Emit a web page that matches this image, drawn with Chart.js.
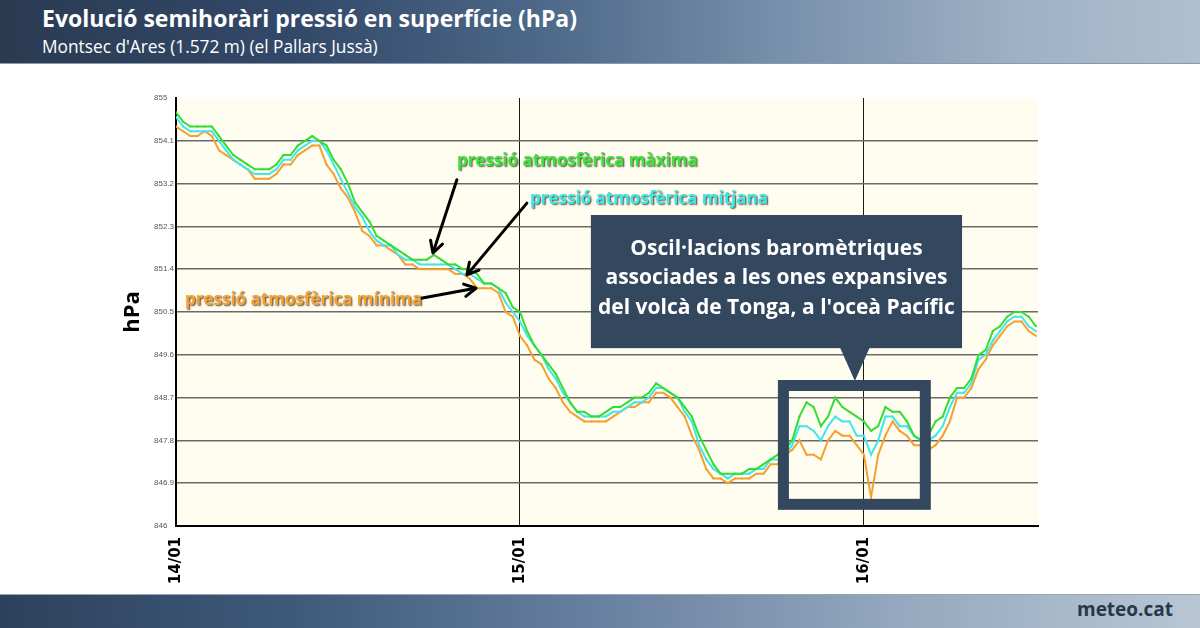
<!DOCTYPE html>
<html><head><meta charset="utf-8">
<script src="https://cdn.jsdelivr.net/npm/chart.js@4.4.1/dist/chart.umd.min.js"></script>
<style>
html,body{margin:0;padding:0;width:1200px;height:628px;overflow:hidden;background:#fff;font-family:"Open Sans",sans-serif;}
#hdr{position:absolute;left:0;top:0;width:1200px;height:63px;background:linear-gradient(90deg,#2a3b51 0%,#33496a 25%,#4d6888 45%,#7790ab 65%,#9fb1c5 85%,#aebfd0 100%);border-bottom:1px solid #8d99a8;}
#t1{position:absolute;left:42px;top:2px;color:#fff;font-weight:700;font-size:23px;white-space:nowrap;}
#t2{position:absolute;left:42px;top:35px;color:#fff;font-size:17.3px;white-space:nowrap;}
#ftr{position:absolute;left:0;top:594px;width:1200px;height:34px;background:linear-gradient(90deg,#2c425c 0%,#3f5a7a 25%,#6881a0 50%,#94a9bf 75%,#b8c6d4 100%);border-top:1px solid #9aa5b2;}
#logo{position:absolute;right:27px;top:1px;color:#26374c;font-size:19px;font-weight:700;white-space:nowrap;}
#wrap{position:absolute;left:0;top:0;width:1200px;height:628px;}
</style></head>
<body>
<div id="hdr"><div id="t1">Evolució semihoràri pressió en superfície (hPa)</div><div id="t2">Montsec d'Ares (1.572 m) (el Pallars Jussà)</div></div>
<div id="ftr"><div id="logo">meteo.cat</div></div>
<div id="wrap"><canvas id="c" width="1200" height="628"></canvas></div>
<script>
// ---- data ----
const dayTickIdx = [0, 48, 96];
const dayLabels = ['14/01', '15/01', '16/01'];
const yTicks = [846, 846.9, 847.8, 848.7, 849.6, 850.5, 851.4, 852.3, 853.2, 854.1, 855];
const pMax = [854.7,854.5,854.4,854.4,854.4,854.4,854.2,854.0,853.8,853.7,
853.6,853.5,853.5,853.5,853.6,853.8,853.8,854.0,854.1,854.2,
854.1,854.0,853.7,853.5,853.2,852.8,852.6,852.4,852.1,852.0,
851.9,851.8,851.7,851.6,851.6,851.6,851.7,851.6,851.5,851.5,
851.4,851.4,851.3,851.1,851.1,851.0,850.9,850.6,850.5,850.1,
849.8,849.6,849.4,849.2,848.9,848.6,848.4,848.4,848.3,848.3,
848.4,848.5,848.5,848.6,848.7,848.7,848.8,849.0,848.9,848.8,
848.7,848.5,848.3,847.9,847.6,847.3,847.1,847.1,847.1,847.1,
847.2,847.2,847.3,847.4,847.5,847.6,847.8,848.3,848.6,848.5,
848.1,848.3,848.7,848.5,848.4,848.3,848.2,848.0,848.1,848.5,
848.4,848.4,848.2,847.9,847.8,847.9,848.2,848.3,848.7,848.9,
848.9,849.1,849.6,849.7,850.1,850.2,850.4,850.5,850.5,850.4,
850.2];
const pMean = [854.6,854.4,854.3,854.3,854.3,854.3,854.1,853.9,853.7,853.6,
853.5,853.4,853.4,853.4,853.5,853.7,853.7,853.9,854.0,854.1,
854.1,853.9,853.6,853.3,853.0,852.7,852.5,852.2,852.0,851.9,
851.9,851.7,851.6,851.6,851.5,851.5,851.5,851.5,851.5,851.4,
851.3,851.3,851.2,851.1,851.1,851.0,850.7,850.5,850.3,850.0,
849.8,849.6,849.3,849.1,848.8,848.6,848.4,848.3,848.3,848.3,
848.3,848.4,848.4,848.5,848.6,848.6,848.7,848.9,848.9,848.8,
848.7,848.4,848.2,847.7,847.4,847.2,847.1,847.0,847.1,847.1,
847.1,847.2,847.2,847.4,847.4,847.5,847.7,848.1,848.1,848.0,
847.8,848.1,848.3,848.2,848.2,847.9,847.9,847.5,847.8,848.3,
848.3,848.1,848.1,847.9,847.8,847.8,847.9,848.1,848.5,848.8,
848.8,849.0,849.5,849.6,849.9,850.1,850.3,850.4,850.4,850.2,
850.1];
const pMin = [854.4,854.3,854.2,854.2,854.3,854.2,853.9,853.8,853.7,853.6,
853.5,853.3,853.3,853.3,853.4,853.6,853.6,853.8,853.9,854.0,
854.0,853.6,853.4,853.1,852.9,852.6,852.2,852.1,851.9,851.9,
851.8,851.7,851.5,851.5,851.4,851.4,851.4,851.4,851.4,851.3,
851.3,851.2,851.0,851.0,851.0,850.9,850.5,850.4,850.0,849.8,
849.5,849.4,849.1,848.9,848.6,848.4,848.3,848.2,848.2,848.2,
848.2,848.3,848.4,848.5,848.5,848.6,848.6,848.8,848.8,848.7,
848.5,848.3,847.9,847.6,847.2,847.0,847.0,846.9,847.0,847.0,
847.0,847.1,847.1,847.3,847.3,847.5,847.6,847.8,847.5,847.5,
847.4,847.8,848.0,847.9,847.9,847.7,847.5,846.6,847.5,847.9,
848.2,848.0,847.9,847.7,847.7,847.6,847.7,847.9,848.2,848.7,
848.7,848.9,849.3,849.5,849.8,850.0,850.2,850.3,850.3,850.1,
850.0];
const seriesNames = ['pressió atmosfèrica màxima', 'pressió atmosfèrica mitjana', 'pressió atmosfèrica mínima'];

// ---- annotations (in data coordinates: x = half-hour index, y = hPa) ----
const noteLabels = [
  {text: seriesNames[0], x: 39.2, y: 853.67, color: '#3ee23a'},
  {text: seriesNames[1], x: 49.4, y: 852.88, color: '#3fe4e4'},
  {text: seriesNames[2], x: 1.26, y: 850.75, color: '#f5a233'}
];
const noteArrows = [
  {x1: 39.2, y1: 853.28, x2: 35.86, y2: 851.74},
  {x1: 48.97, y1: 852.79, x2: 40.6, y2: 851.28},
  {x1: 34.2, y1: 850.79, x2: 41.86, y2: 851.0}
];
const calloutLines = ['Oscil·lacions baromètriques', 'associades a les ones expansives', "del volcà de Tonga, a l'oceà Pacífic"];
const callout = {x0: 57.9, x1: 109.7, y0: 852.54, y1: 849.74, tipX: 94.74, tipY: 849.05, bx0: 92.65, bx1: 96.83};
const focusBox = {x0: 84.0, x1: 105.34, y0: 849.07, y1: 846.34};

const toXY = arr => arr.map((v, i) => ({x: i, y: v}));
const NAVY = '#33475f';

function drawArrow(ctx, x1, y1, x2, y2) {
  const a = Math.atan2(y2 - y1, x2 - x1), h = 13;
  ctx.beginPath(); ctx.moveTo(x1, y1); ctx.lineTo(x2 - Math.cos(a) * 2, y2 - Math.sin(a) * 2); ctx.stroke();
  ctx.beginPath();
  ctx.moveTo(x2 - h * Math.cos(a - 0.5), y2 - h * Math.sin(a - 0.5));
  ctx.lineTo(x2, y2);
  ctx.lineTo(x2 - h * Math.cos(a + 0.5), y2 - h * Math.sin(a + 0.5));
  ctx.stroke();
}

const deco = {
  id: 'deco',
  beforeDraw(chart) {
    const {ctx, chartArea: a} = chart;
    ctx.save(); ctx.fillStyle = '#fffdf0';
    ctx.fillRect(a.left, a.top, a.right - a.left, a.bottom - a.top);
    ctx.restore();
  },
  afterDatasetsDraw(chart) {
    const {ctx} = chart; const xs = chart.scales.x, ys = chart.scales.y;
    const X = v => xs.getPixelForValue(v), Y = v => ys.getPixelForValue(v);
    ctx.save();
    ctx.strokeStyle = '#000'; ctx.lineWidth = 3; ctx.lineCap = 'round'; ctx.lineJoin = 'round';
    noteArrows.forEach(r => drawArrow(ctx, X(r.x1), Y(r.y1), X(r.x2), Y(r.y2)));
    ctx.font = 'bold 17px "Open Sans"'; ctx.textBaseline = 'middle'; ctx.textAlign = 'left';
    noteLabels.forEach(l => {
      ctx.save();
      ctx.shadowColor = 'rgba(40,30,10,0.75)'; ctx.shadowOffsetX = 1.2; ctx.shadowOffsetY = 1.2; ctx.shadowBlur = 1.5;
      ctx.fillStyle = l.color; ctx.fillText(l.text, X(l.x), Y(l.y));
      ctx.restore();
    });
    ctx.strokeStyle = NAVY; ctx.lineWidth = 11; ctx.lineJoin = 'miter';
    const fx0 = X(focusBox.x0) + 5.5, fx1 = X(focusBox.x1) - 5.5, fy0 = Y(focusBox.y0) + 5.5, fy1 = Y(focusBox.y1) - 5.5;
    ctx.strokeRect(fx0, fy0, fx1 - fx0, fy1 - fy0);
    ctx.fillStyle = NAVY;
    const cx0 = X(callout.x0), cx1 = X(callout.x1), cy0 = Y(callout.y0), cy1 = Y(callout.y1);
    ctx.fillRect(cx0, cy0, cx1 - cx0, cy1 - cy0);
    ctx.beginPath(); ctx.moveTo(X(callout.bx0), cy1 - 1); ctx.lineTo(X(callout.bx1), cy1 - 1);
    ctx.lineTo(X(callout.tipX), Y(callout.tipY)); ctx.closePath(); ctx.fill();
    ctx.fillStyle = '#fff'; ctx.font = 'bold 21px "Open Sans"'; ctx.textAlign = 'center'; ctx.textBaseline = 'alphabetic';
    calloutLines.forEach((t, k) => ctx.fillText(t, (cx0 + cx1) / 2, cy0 + 40 + k * 29.5));
    ctx.restore();
  }
};

const mk = (label, arr, color) => ({
  label, data: toXY(arr), borderColor: color, backgroundColor: color,
  borderWidth: 2, pointRadius: 1.3, pointStyle: 'rect', pointBorderWidth: 0,
  pointBackgroundColor: color, tension: 0, fill: false
});

new Chart(document.getElementById('c'), {
  type: 'line',
  data: { datasets: [
    mk(seriesNames[0], pMax, '#33dd33'),
    mk(seriesNames[1], pMean, '#3fe6ee'),
    mk(seriesNames[2], pMin, '#f5a030')
  ]},
  options: {
    responsive: false, animation: false, devicePixelRatio: 1,
    layout: { padding: { left: 154, right: 162, top: 98, bottom: 42 } },
    plugins: { legend: { display: false }, tooltip: { enabled: false } },
    scales: {
      x: {
        type: 'linear', min: 0, max: 120.3,
        afterBuildTicks: s => { s.ticks = dayTickIdx.map(v => ({value: v})); },
        afterFit: s => { s.height = 60; },
        ticks: { autoSkip: false, minRotation: 90, maxRotation: 90, padding: 11,
          color: '#000', font: { family: 'DejaVu Sans', weight: 'bold', size: 15 },
          callback: v => dayLabels[dayTickIdx.indexOf(v)] },
        grid: { color: '#1a1a1a', lineWidth: 1, drawTicks: false },
        border: { display: true, color: '#000', width: 2 }
      },
      y: {
        min: 846, max: 855,
        afterBuildTicks: s => { s.ticks = yTicks.map(v => ({value: v})); },
        afterFit: s => { s.width = 22; },
        ticks: { autoSkip: false, crossAlign: 'far', color: '#555', font: { family: 'Liberation Sans', size: 8 },
          callback: v => String(Number(v.toFixed(1))) },
        grid: { drawTicks: false, lineWidth: 1.6,
          color: c => (c.tick && c.tick.value >= 855) ? 'rgba(0,0,0,0)' : '#6a6a6a' },
        border: { display: true, color: '#000', width: 2 },
        title: { display: true, text: 'hPa', color: '#000', padding: { top: -34, bottom: 0 },
          font: { family: 'Open Sans', weight: 'bold', size: 22 } }
      }
    }
  },
  plugins: [deco]
});
</script>
</body></html>
